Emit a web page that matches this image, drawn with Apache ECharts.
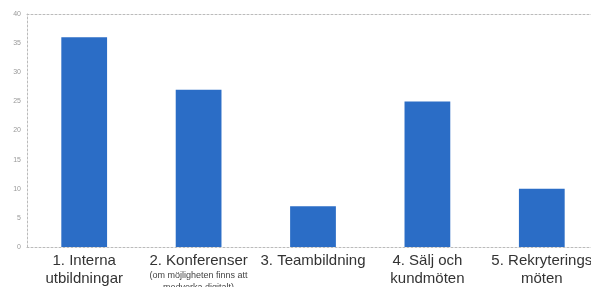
<!DOCTYPE html>
<html>
<head>
<meta charset="utf-8">
<script src="https://cdn.jsdelivr.net/npm/echarts@6/dist/echarts.min.js"></script>
<style>
html, body { margin: 0; padding: 0; background: #fff; }
#chart { width: 591px; height: 287px; }
</style>
</head>
<body>
<div id="chart"></div>
<script>
// data
const categories = [
	"1. Interna\nutbildningar",
	"2. Konferenser\n{small|(om möjligheten finns att}\n{small|medverka digitalt)}",
	"3. Teambildning",
	"4. Sälj och\nkundmöten",
	"5. Rekryterings\nmöten",
];
const values = [36, 27, 7, 25, 10];
const yTicks = [0, 5, 10, 15, 20, 25, 30, 35, 40];

const chart = echarts.init(document.getElementById("chart"));

const dashed = { color: "#bbbbbb", type: [2, 2], width: 1 };

chart.setOption({
	animation: false,
	backgroundColor: "#ffffff",
	grid: { left: 27, right: -8, top: 14, bottom: 40, outerBoundsMode: "none", containLabel: false },
	xAxis: [
		{
			type: "category",
			data: categories,
			axisLine: { lineStyle: dashed },
			axisTick: { show: false },
			axisLabel: {
				interval: 0,
				margin: 5,
				color: "#333",
				fontFamily: "Liberation Sans",
				fontSize: 15,
				lineHeight: 18,
				rich: {
					small: { fontSize: 9, lineHeight: 12, color: "#444", fontFamily: "Liberation Sans" },
				},
			},
		},
		{
			// top border of the plot
			type: "category",
			position: "top",
			data: categories,
			axisLine: { lineStyle: dashed },
			axisTick: { show: false },
			axisLabel: { show: false },
		},
	],
	yAxis: {
		type: "value",
		min: yTicks[0],
		max: yTicks[yTicks.length - 1],
		interval: 5,
		axisLine: { show: true, lineStyle: dashed },
		axisTick: { show: false },
		splitLine: { show: false },
		axisLabel: { color: "#999", fontSize: 7, margin: 6, fontFamily: "Liberation Sans" },
	},
	series: [
		{
			type: "bar",
			data: values,
			barWidth: "40%",
			itemStyle: { color: "#2b6dc6" },
		},
	],
});
</script>
</body>
</html>
